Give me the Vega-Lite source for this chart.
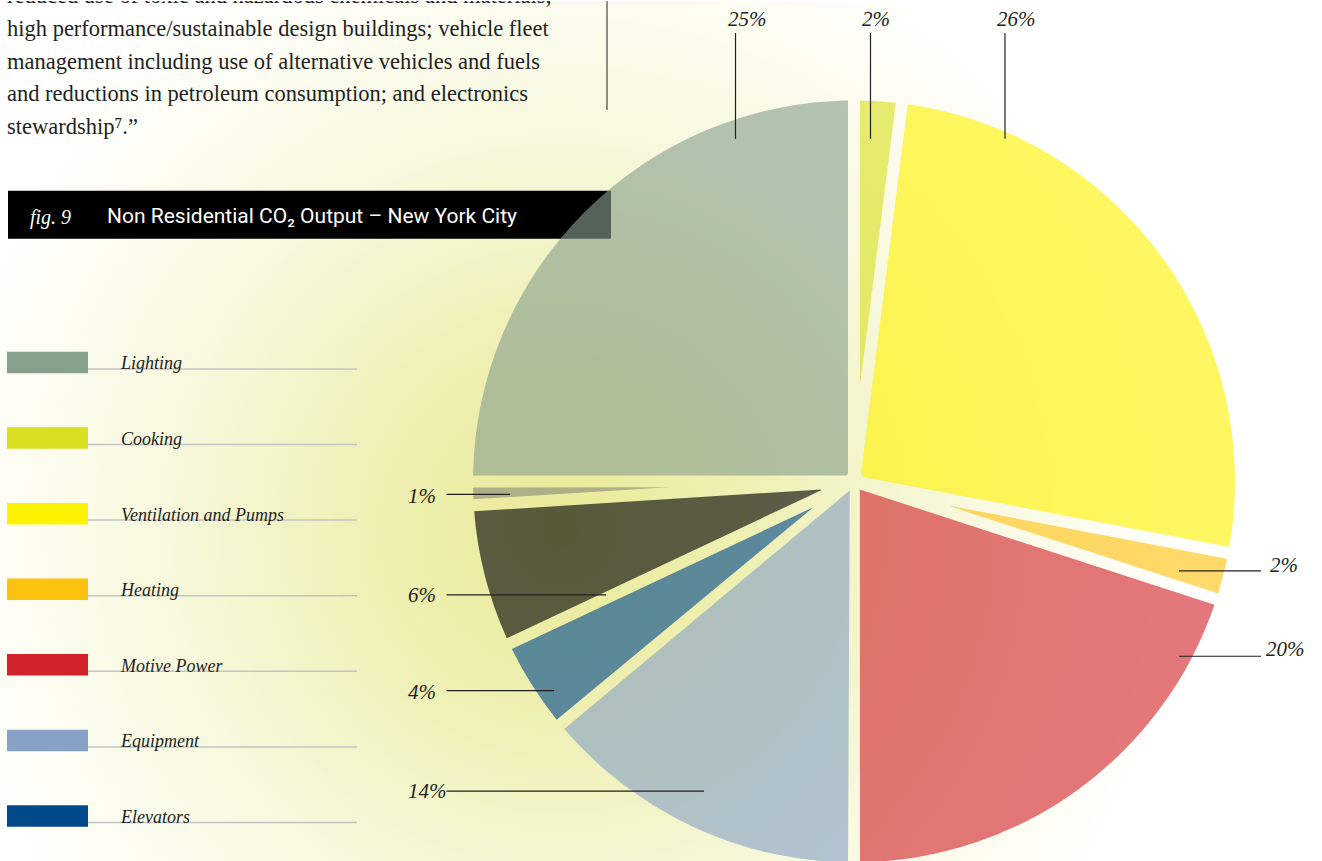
{
  "$schema": "https://vega.github.io/schema/vega-lite/v6.json",
  "width": 1322,
  "height": 861,
  "autosize": {"type": "fit", "contains": "padding"},
  "padding": 0,
  "background": "#ffffff",
  "config": {"view": {"stroke": null}, "axis": {"disable": true}, "legend": {"disable": true}},
  "datasets": {
    "slices": [
      {"category": "Cooking", "value": 2, "idx": 1},
      {"category": "Ventilation and Pumps", "value": 26, "idx": 2},
      {"category": "Heating", "value": 2, "idx": 3},
      {"category": "Motive Power", "value": 20, "idx": 4},
      {"category": "Equipment", "value": 14, "idx": 5},
      {"category": "Elevators", "value": 4, "idx": 6},
      {"category": "Other", "value": 6, "idx": 7},
      {"category": "Miscellaneous", "value": 1, "idx": 8},
      {"category": "Lighting", "value": 25, "idx": 9}
    ],
    "one": [{"k": 1}]
  },
  "resolve": {"scale": {"y": "independent"}},
  "layer": [
    {
      "data": {"name": "one"},
      "layer": [
        {
          "mark": {"type": "rect", "fill": {"gradient": "radial", "x1": 0.4236, "y1": 0.575, "r1": 0, "x2": 0.4236, "y2": 0.575, "r2": 0.492,
            "stops": [
              {"offset": 0, "color": "#eaea98"},
              {"offset": 0.3, "color": "#eff0b4"},
              {"offset": 0.6, "color": "#f7f8dc"},
              {"offset": 0.85, "color": "#fdfdf4"},
              {"offset": 1, "color": "#ffffff"}
            ]}},
          "encoding": {
            "x": {"datum": 0, "type": "quantitative", "scale": {"domain": [0, 1322], "nice": false, "zero": false}},
            "x2": {"datum": 1322},
            "y": {"datum": 0, "type": "quantitative", "scale": {"domain": [0, 861], "nice": false, "zero": false, "reverse": true}},
            "y2": {"datum": 861}
          }
        },
        {
          "mark": {"type": "rect", "fill": "#000000"},
          "encoding": {
            "x": {"datum": 8, "type": "quantitative", "scale": {"domain": [0, 1322], "nice": false, "zero": false}},
            "x2": {"datum": 611},
            "y": {"datum": 190, "type": "quantitative", "scale": {"domain": [0, 861], "nice": false, "zero": false, "reverse": true}},
            "y2": {"datum": 238}
          }
        },
        {
          "mark": {"type": "rule", "color": "#231f20", "strokeWidth": 1},
          "encoding": {
            "x": {"datum": 607, "type": "quantitative", "scale": {"domain": [0, 1322], "nice": false, "zero": false}},
            "y": {"datum": 0, "type": "quantitative", "scale": {"domain": [0, 861], "nice": false, "zero": false, "reverse": true}},
            "y2": {"datum": 109}
          }
        },
        {
          "mark": {"type": "text", "clip": true, "font": "Liberation Serif", "fontSize": 22.5, "color": "#231f20", "align": "left", "baseline": "alphabetic", "lineHeight": 32.6,
            "text": ["reduced use of toxic and hazardous chemicals and materials;", "high performance/sustainable design buildings; vehicle fleet", "management including use of alternative vehicles and fuels", "and reductions in petroleum consumption; and electronics", "stewardship⁷.”"]},
          "encoding": {
            "x": {"datum": 7, "type": "quantitative", "scale": {"domain": [0, 1322], "nice": false, "zero": false}},
            "y": {"datum": 2.5, "type": "quantitative", "scale": {"domain": [0, 861], "nice": false, "zero": false, "reverse": true}}
          }
        },
        {
          "mark": {"type": "text", "font": "Liberation Serif", "fontStyle": "italic", "fontSize": 20, "color": "#ffffff", "align": "left", "baseline": "alphabetic", "text": "fig. 9"},
          "encoding": {
            "x": {"datum": 30, "type": "quantitative", "scale": {"domain": [0, 1322], "nice": false, "zero": false}},
            "y": {"datum": 223, "type": "quantitative", "scale": {"domain": [0, 861], "nice": false, "zero": false, "reverse": true}}
          }
        },
        {
          "mark": {"type": "text", "font": "Roboto, Noto Sans, DejaVu Sans", "fontSize": 21, "color": "#ffffff", "align": "left", "baseline": "alphabetic", "text": "Non Residential CO₂ Output – New York City"},
          "encoding": {
            "x": {"datum": 107, "type": "quantitative", "scale": {"domain": [0, 1322], "nice": false, "zero": false}},
            "y": {"datum": 222, "type": "quantitative", "scale": {"domain": [0, 861], "nice": false, "zero": false, "reverse": true}}
          }
        },
        {
          "data": {"name": "slices"},
          "transform": [{"stack": "value", "groupby": [], "sort": [{"field": "idx", "order": "ascending"}], "as": ["t0", "t1"]}],
          "encoding": {
            "theta": {"field": "t0", "type": "quantitative", "scale": {"domain": [0, 100]}},
            "theta2": {"field": "t1"},
            "color": {"field": "category", "type": "nominal", "legend": null,
              "scale": {"domain": ["Lighting", "Cooking", "Ventilation and Pumps", "Heating", "Motive Power", "Equipment", "Elevators", "Other", "Miscellaneous"],
                        "range": ["#87a08c", "#d8e021", "#fff200", "#ffc20e", "#d2232a", "#86a1c5", "#004a8c", "#000000", "#8b8b79"]}},
            "x": {"datum": 854, "type": "quantitative", "scale": {"domain": [0, 1322], "nice": false, "zero": false}},
            "y": {"datum": 481, "type": "quantitative", "scale": {"domain": [0, 861], "nice": false, "zero": false, "reverse": true}}
          },
          "layer": [
            {"transform": [{"filter": {"field": "category", "oneOf": ["Lighting", "Ventilation and Pumps", "Motive Power", "Equipment"]}}],
             "mark": {"type": "arc", "clip": true, "innerRadius": 10, "outerRadius": 381, "padAngle": 0.03149, "fillOpacity": 0.62, "strokeWidth": 0}},
            {"transform": [{"filter": {"field": "category", "equal": "Other"}}],
             "mark": {"type": "arc", "clip": true, "innerRadius": 34, "outerRadius": 381, "padAngle": 0.03137, "fillOpacity": 0.62, "strokeWidth": 0}},
            {"transform": [{"filter": {"field": "category", "equal": "Elevators"}}],
             "mark": {"type": "arc", "clip": true, "innerRadius": 50, "outerRadius": 381, "padAngle": 0.03123, "fillOpacity": 0.62, "strokeWidth": 0}},
            {"transform": [{"filter": {"field": "category", "oneOf": ["Cooking", "Heating"]}}],
             "mark": {"type": "arc", "clip": true, "innerRadius": 100, "outerRadius": 381, "padAngle": 0.03047, "fillOpacity": 0.62, "strokeWidth": 0}},
            {"transform": [{"filter": {"field": "category", "equal": "Miscellaneous"}}],
             "mark": {"type": "arc", "clip": true, "innerRadius": 186, "outerRadius": 381, "padAngle": 0.0283, "fillOpacity": 0.62, "strokeWidth": 0}}
          ]
        },
        {"mark": {"type": "rule", "color": "#231f20", "strokeWidth": 1.2},
         "encoding": {"x": {"datum": 735.5, "type": "quantitative", "scale": {"domain": [0, 1322], "nice": false, "zero": false}},
                      "y": {"datum": 32, "type": "quantitative", "scale": {"domain": [0, 861], "nice": false, "zero": false, "reverse": true}}, "y2": {"datum": 138}}},
        {"mark": {"type": "rule", "color": "#231f20", "strokeWidth": 1.2},
         "encoding": {"x": {"datum": 870.5, "type": "quantitative", "scale": {"domain": [0, 1322], "nice": false, "zero": false}},
                      "y": {"datum": 32, "type": "quantitative", "scale": {"domain": [0, 861], "nice": false, "zero": false, "reverse": true}}, "y2": {"datum": 138}}},
        {"mark": {"type": "rule", "color": "#231f20", "strokeWidth": 1.2},
         "encoding": {"x": {"datum": 1005, "type": "quantitative", "scale": {"domain": [0, 1322], "nice": false, "zero": false}},
                      "y": {"datum": 32, "type": "quantitative", "scale": {"domain": [0, 861], "nice": false, "zero": false, "reverse": true}}, "y2": {"datum": 138}}},
        {"mark": {"type": "rule", "color": "#231f20", "strokeWidth": 1.2},
         "encoding": {"x": {"datum": 1179, "type": "quantitative", "scale": {"domain": [0, 1322], "nice": false, "zero": false}}, "x2": {"datum": 1261},
                      "y": {"datum": 570.5, "type": "quantitative", "scale": {"domain": [0, 861], "nice": false, "zero": false, "reverse": true}}}},
        {"mark": {"type": "rule", "color": "#231f20", "strokeWidth": 1.2},
         "encoding": {"x": {"datum": 1179, "type": "quantitative", "scale": {"domain": [0, 1322], "nice": false, "zero": false}}, "x2": {"datum": 1261},
                      "y": {"datum": 656, "type": "quantitative", "scale": {"domain": [0, 861], "nice": false, "zero": false, "reverse": true}}}},
        {"mark": {"type": "rule", "color": "#231f20", "strokeWidth": 1.2},
         "encoding": {"x": {"datum": 446.5, "type": "quantitative", "scale": {"domain": [0, 1322], "nice": false, "zero": false}}, "x2": {"datum": 510},
                      "y": {"datum": 494, "type": "quantitative", "scale": {"domain": [0, 861], "nice": false, "zero": false, "reverse": true}}}},
        {"mark": {"type": "rule", "color": "#231f20", "strokeWidth": 1.2},
         "encoding": {"x": {"datum": 446.5, "type": "quantitative", "scale": {"domain": [0, 1322], "nice": false, "zero": false}}, "x2": {"datum": 606},
                      "y": {"datum": 594.5, "type": "quantitative", "scale": {"domain": [0, 861], "nice": false, "zero": false, "reverse": true}}}},
        {"mark": {"type": "rule", "color": "#231f20", "strokeWidth": 1.2},
         "encoding": {"x": {"datum": 446.5, "type": "quantitative", "scale": {"domain": [0, 1322], "nice": false, "zero": false}}, "x2": {"datum": 554},
                      "y": {"datum": 690.5, "type": "quantitative", "scale": {"domain": [0, 861], "nice": false, "zero": false, "reverse": true}}}},
        {"mark": {"type": "rule", "color": "#231f20", "strokeWidth": 1.2},
         "encoding": {"x": {"datum": 446.5, "type": "quantitative", "scale": {"domain": [0, 1322], "nice": false, "zero": false}}, "x2": {"datum": 704},
                      "y": {"datum": 791, "type": "quantitative", "scale": {"domain": [0, 861], "nice": false, "zero": false, "reverse": true}}}},
        {"mark": {"type": "text", "font": "Liberation Serif", "fontStyle": "italic", "fontSize": 21, "color": "#231f20", "align": "left", "baseline": "alphabetic", "text": "25%"},
         "encoding": {"x": {"datum": 728, "type": "quantitative", "scale": {"domain": [0, 1322], "nice": false, "zero": false}},
                      "y": {"datum": 25, "type": "quantitative", "scale": {"domain": [0, 861], "nice": false, "zero": false, "reverse": true}}}},
        {"mark": {"type": "text", "font": "Liberation Serif", "fontStyle": "italic", "fontSize": 21, "color": "#231f20", "align": "left", "baseline": "alphabetic", "text": "2%"},
         "encoding": {"x": {"datum": 862, "type": "quantitative", "scale": {"domain": [0, 1322], "nice": false, "zero": false}},
                      "y": {"datum": 25, "type": "quantitative", "scale": {"domain": [0, 861], "nice": false, "zero": false, "reverse": true}}}},
        {"mark": {"type": "text", "font": "Liberation Serif", "fontStyle": "italic", "fontSize": 21, "color": "#231f20", "align": "left", "baseline": "alphabetic", "text": "26%"},
         "encoding": {"x": {"datum": 997, "type": "quantitative", "scale": {"domain": [0, 1322], "nice": false, "zero": false}},
                      "y": {"datum": 25, "type": "quantitative", "scale": {"domain": [0, 861], "nice": false, "zero": false, "reverse": true}}}},
        {"mark": {"type": "text", "font": "Liberation Serif", "fontStyle": "italic", "fontSize": 21, "color": "#231f20", "align": "left", "baseline": "alphabetic", "text": "2%"},
         "encoding": {"x": {"datum": 1270, "type": "quantitative", "scale": {"domain": [0, 1322], "nice": false, "zero": false}},
                      "y": {"datum": 571.5, "type": "quantitative", "scale": {"domain": [0, 861], "nice": false, "zero": false, "reverse": true}}}},
        {"mark": {"type": "text", "font": "Liberation Serif", "fontStyle": "italic", "fontSize": 21, "color": "#231f20", "align": "left", "baseline": "alphabetic", "text": "20%"},
         "encoding": {"x": {"datum": 1266, "type": "quantitative", "scale": {"domain": [0, 1322], "nice": false, "zero": false}},
                      "y": {"datum": 656, "type": "quantitative", "scale": {"domain": [0, 861], "nice": false, "zero": false, "reverse": true}}}},
        {"mark": {"type": "text", "font": "Liberation Serif", "fontStyle": "italic", "fontSize": 21, "color": "#231f20", "align": "left", "baseline": "alphabetic", "text": "1%"},
         "encoding": {"x": {"datum": 408, "type": "quantitative", "scale": {"domain": [0, 1322], "nice": false, "zero": false}},
                      "y": {"datum": 503, "type": "quantitative", "scale": {"domain": [0, 861], "nice": false, "zero": false, "reverse": true}}}},
        {"mark": {"type": "text", "font": "Liberation Serif", "fontStyle": "italic", "fontSize": 21, "color": "#231f20", "align": "left", "baseline": "alphabetic", "text": "6%"},
         "encoding": {"x": {"datum": 408, "type": "quantitative", "scale": {"domain": [0, 1322], "nice": false, "zero": false}},
                      "y": {"datum": 602, "type": "quantitative", "scale": {"domain": [0, 861], "nice": false, "zero": false, "reverse": true}}}},
        {"mark": {"type": "text", "font": "Liberation Serif", "fontStyle": "italic", "fontSize": 21, "color": "#231f20", "align": "left", "baseline": "alphabetic", "text": "4%"},
         "encoding": {"x": {"datum": 408, "type": "quantitative", "scale": {"domain": [0, 1322], "nice": false, "zero": false}},
                      "y": {"datum": 699, "type": "quantitative", "scale": {"domain": [0, 861], "nice": false, "zero": false, "reverse": true}}}},
        {"mark": {"type": "text", "font": "Liberation Serif", "fontStyle": "italic", "fontSize": 21, "color": "#231f20", "align": "left", "baseline": "alphabetic", "text": "14%"},
         "encoding": {"x": {"datum": 408, "type": "quantitative", "scale": {"domain": [0, 1322], "nice": false, "zero": false}},
                      "y": {"datum": 798, "type": "quantitative", "scale": {"domain": [0, 861], "nice": false, "zero": false, "reverse": true}}}}
      ]
    },
    {
      "data": {"name": "slices"},
      "transform": [{"filter": {"field": "category", "oneOf": ["Lighting", "Cooking", "Ventilation and Pumps", "Heating", "Motive Power", "Equipment", "Elevators"]}}],
      "layer": [
        {
          "mark": {"type": "rect"},
          "encoding": {
            "x": {"datum": 7, "type": "quantitative", "scale": {"domain": [0, 1322], "nice": false, "zero": false}},
            "x2": {"datum": 88},
            "y": {"field": "category", "type": "nominal", "axis": null,
              "scale": {"domain": ["Lighting", "Cooking", "Ventilation and Pumps", "Heating", "Motive Power", "Equipment", "Elevators"], "range": [350.7, 825.8], "paddingInner": 0.716, "paddingOuter": 0}},
            "color": {"field": "category", "type": "nominal", "legend": null,
              "scale": {"domain": ["Lighting", "Cooking", "Ventilation and Pumps", "Heating", "Motive Power", "Equipment", "Elevators", "Other", "Miscellaneous"],
                        "range": ["#87a08c", "#d8e021", "#fff200", "#ffc20e", "#d2232a", "#86a1c5", "#004a8c", "#000000", "#8b8b79"]}}
          }
        },
        {
          "mark": {"type": "rule", "color": "#c4c4c4", "strokeWidth": 1.5},
          "encoding": {
            "x": {"datum": 88, "type": "quantitative", "scale": {"domain": [0, 1322], "nice": false, "zero": false}},
            "x2": {"datum": 357},
            "y": {"field": "category", "type": "nominal", "axis": null, "bandPosition": 0.8,
              "scale": {"domain": ["Lighting", "Cooking", "Ventilation and Pumps", "Heating", "Motive Power", "Equipment", "Elevators"], "range": [350.7, 825.8], "paddingInner": 0.716, "paddingOuter": 0}}
          }
        },
        {
          "mark": {"type": "text", "font": "Liberation Serif", "fontStyle": "italic", "fontSize": 18, "color": "#231f20", "align": "left", "baseline": "alphabetic"},
          "encoding": {
            "x": {"datum": 121, "type": "quantitative", "scale": {"domain": [0, 1322], "nice": false, "zero": false}},
            "y": {"field": "category", "type": "nominal", "axis": null, "bandPosition": 0.82,
              "scale": {"domain": ["Lighting", "Cooking", "Ventilation and Pumps", "Heating", "Motive Power", "Equipment", "Elevators"], "range": [350.7, 825.8], "paddingInner": 0.716, "paddingOuter": 0}},
            "text": {"field": "category", "type": "nominal"}
          }
        }
      ]
    }
  ]
}
